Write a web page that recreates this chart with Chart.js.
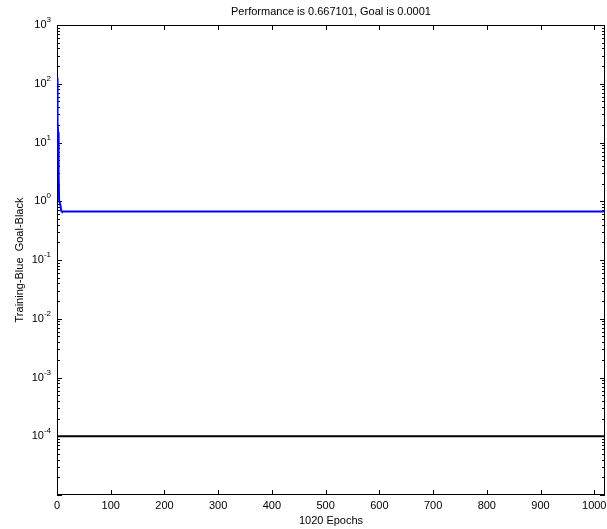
<!DOCTYPE html>
<html>
<head>
<meta charset="utf-8">
<script src="https://cdn.jsdelivr.net/npm/chart.js@4/dist/chart.umd.min.js"></script>
<style>
  html, body { margin: 0; padding: 0; background: #fff; }
  canvas { display: block; }
</style>
</head>
<body>
<canvas id="c" width="607" height="529"></canvas>
<script>
// ---- data ----
const titleText = "Performance is 0.667101, Goal is 0.0001";
const xTitle = "1020 Epochs";
const yTitle = "Training-Blue  Goal-Black";

const trainEpochs = [0, 1, 2, 3, 4, 6, 8, 9, 1020];
const trainPerf   = [126, 22, 15, 3, 1.0, 0.9, 0.68, 0.667101, 0.667101];

const goalEpochs = [0, 1020];
const goalPerf   = [0.0001, 0.0001];

const xTickValues = [0, 100, 200, 300, 400, 500, 600, 700, 800, 900, 1000];
const yTickValues = [1e-4, 1e-3, 1e-2, 1e-1, 1e0, 1e1, 1e2, 1e3];
const xMin = 0, xMax = 1020;
const yMin = 1e-5, yMax = 1e3;

const FONT = "'Liberation Sans', Arial, sans-serif";

const matlabAxes = {
  id: 'matlabAxes',
  beforeDatasetsDraw(chart) {
    const ctx = chart.ctx;
    const a = chart.chartArea;
    const xs = chart.scales.x, ys = chart.scales.y;
    ctx.save();
    ctx.strokeStyle = '#000';
    ctx.lineWidth = 1;
    ctx.strokeRect(Math.round(a.left) + 0.5, Math.round(a.top) + 0.5,
                   Math.round(a.right - a.left) - 1, Math.round(a.bottom - a.top) - 1);
    ctx.beginPath();
    xs.ticks.forEach(t => {
      const px = Math.round(xs.getPixelForValue(t.value)) + 0.5;
      ctx.moveTo(px, a.bottom); ctx.lineTo(px, a.bottom - 5);
      ctx.moveTo(px, a.top); ctx.lineTo(px, a.top + 5);
    });
    const lo = Math.round(Math.log10(yMin)), hi = Math.round(Math.log10(yMax));
    for (let e = lo; e <= hi; e++) {
      for (let m = 1; m <= 9; m++) {
        const v = m * Math.pow(10, e);
        if (v > yMax * 1.0001) break;
        const py = Math.round(ys.getPixelForValue(v)) + 0.5;
        const len = m === 1 ? 5 : 3;
        ctx.moveTo(a.left, py); ctx.lineTo(a.left + len, py);
        ctx.moveTo(a.right, py); ctx.lineTo(a.right - len, py);
      }
    }
    ctx.stroke();
    ctx.restore();
  },
  afterDraw(chart) {
    const ctx = chart.ctx;
    const a = chart.chartArea;
    const ys = chart.scales.y;
    ctx.save();
    ctx.fillStyle = '#000';
    ctx.font = '11px ' + FONT;
    ctx.textAlign = 'center';
    ctx.textBaseline = 'middle';
    ctx.fillText(titleText, (a.left + a.right) / 2, 12);
    ys.ticks.forEach(t => {
      const py = ys.getPixelForValue(t.value);
      const ex = String(Math.round(Math.log10(t.value)));
      ctx.font = '8px ' + FONT;
      ctx.textAlign = 'right';
      ctx.textBaseline = 'middle';
      const right = a.left - 6;
      const ew = ctx.measureText(ex).width;
      ctx.fillText(ex, right, py - 5);
      ctx.font = '11px ' + FONT;
      ctx.fillText('10', right - ew, py);
    });
    ctx.restore();
  }
};

new Chart(document.getElementById('c'), {
  type: 'line',
  data: {
    datasets: [
      {
        label: 'Training',
        data: trainEpochs.map((e, i) => ({ x: e, y: trainPerf[i] })),
        borderColor: '#0000ff',
        borderWidth: 2,
        pointRadius: 0,
        tension: 0,
        fill: false
      },
      {
        label: 'Goal',
        data: goalEpochs.map((e, i) => ({ x: e, y: goalPerf[i] })),
        borderColor: '#000000',
        borderWidth: 2,
        pointRadius: 0,
        tension: 0,
        fill: false
      }
    ]
  },
  options: {
    responsive: false,
    animation: false,
    layout: { padding: { top: 25, right: 2, left: 0, bottom: 0 } },
    plugins: {
      legend: { display: false },
      title: { display: false },
      tooltip: { enabled: false }
    },
    scales: {
      x: {
        type: 'linear',
        min: xMin,
        max: xMax,
        afterBuildTicks: s => { s.ticks = xTickValues.map(v => ({ value: v })); },
        afterFit: s => { s.height = 34; s.paddingLeft = 0; s.paddingRight = 0; },
        grid: { display: false, drawTicks: false },
        border: { display: false },
        ticks: {
          color: '#000',
          padding: 4,
          maxRotation: 0,
          autoSkip: false,
          callback: v => String(v),
          font: { family: FONT, size: 11 }
        },
        title: {
          display: true,
          text: xTitle,
          color: '#000',
          padding: { top: 0, bottom: 1 },
          font: { family: FONT, size: 11 }
        }
      },
      y: {
        type: 'logarithmic',
        min: yMin,
        max: yMax,
        afterBuildTicks: s => { s.ticks = yTickValues.map(v => ({ value: v })); },
        afterFit: s => { s.width = 57; s.paddingTop = 0; s.paddingBottom = 0; },
        grid: { display: false, drawTicks: false },
        border: { display: false },
        ticks: { display: false },
        title: {
          display: true,
          text: yTitle,
          color: '#000',
          padding: { top: 13, bottom: 0 },
          font: { family: FONT, size: 11 }
        }
      }
    }
  },
  plugins: [matlabAxes]
});
</script>
</body>
</html>
